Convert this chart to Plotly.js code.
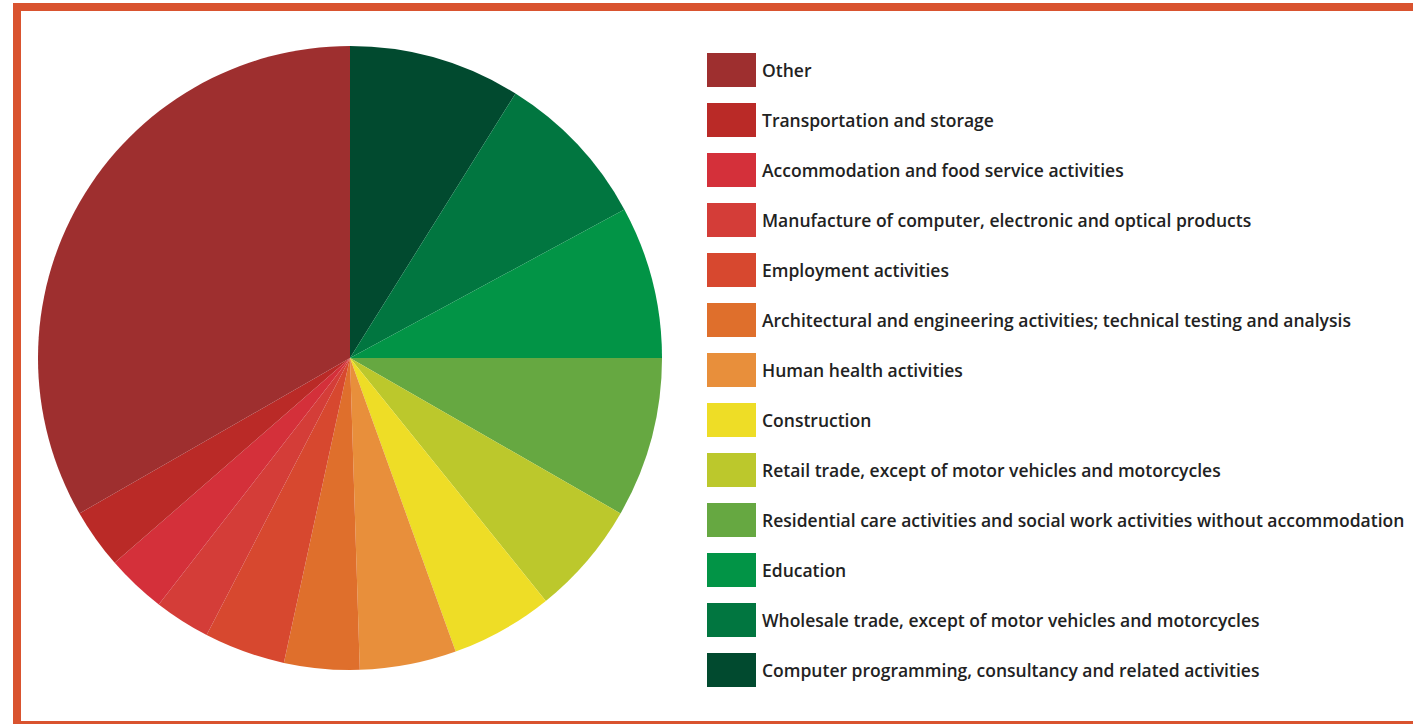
<!DOCTYPE html>
<html>
<head>
<meta charset="utf-8">
<script src="https://cdn.plot.ly/plotly-3.0.1.min.js"></script>
<style>
  html, body { margin: 0; padding: 0; background: #ffffff; }
  #chart { width: 1413px; height: 724px; }
</style>
</head>
<body>
<div id="chart"></div>
<script>
// Sector labels (legend order, top to bottom)
const labels = [
  "Other",
  "Transportation and storage",
  "Accommodation and food service activities",
  "Manufacture of computer, electronic and optical products",
  "Employment activities",
  "Architectural and engineering activities; technical testing and analysis",
  "Human health activities",
  "Construction",
  "Retail trade, except of motor vehicles and motorcycles",
  "Residential care activities and social work activities without accommodation",
  "Education",
  "Wholesale trade, except of motor vehicles and motorcycles",
  "Computer programming, consultancy and related activities"
];

// Share of each sector (%)
const shares = [33.3, 3.1, 3.1, 2.9, 4.2, 3.9, 5.0, 5.3, 5.9, 8.3, 7.9, 8.2, 8.9];

const colors = [
  "#9e2f2f", "#ba2a27", "#d4303a", "#d43d38", "#d7482f", "#df6f2c",
  "#e88f3b", "#eedd26", "#bcc82c", "#66a841", "#029446", "#017640", "#014a2f"
];

const W = 1413, H = 724;
const px = x => x / W;
const py = y => 1 - y / H;

const shapes = [];
const annotations = [];

// Legend built from labels and colors
labels.forEach((lab, i) => {
  const cy = 70 + 50 * i;
  shapes.push({
    type: "rect", xref: "paper", yref: "paper",
    x0: px(707), x1: px(756), y0: py(cy + 17), y1: py(cy - 17),
    fillcolor: colors[i], line: { width: 0 }, layer: "above"
  });
  annotations.push({
    xref: "paper", yref: "paper", x: px(760), y: py(cy),
    xanchor: "left", yanchor: "middle", showarrow: false,
    text: lab, font: { family: "'Open Sans', sans-serif", size: 17.5, weight: 600, color: "#222222" }
  });
});

// Orange frame
const frameColor = "#d9532f";
shapes.push(
  { type: "rect", xref: "paper", yref: "paper", x0: px(13), x1: px(1420), y0: py(11), y1: py(3),
    fillcolor: frameColor, line: { width: 0 }, layer: "above" },
  { type: "rect", xref: "paper", yref: "paper", x0: px(13), x1: px(21), y0: py(730), y1: py(3),
    fillcolor: frameColor, line: { width: 0 }, layer: "above" },
  { type: "rect", xref: "paper", yref: "paper", x0: px(13), x1: px(1420), y0: py(730), y1: py(721),
    fillcolor: frameColor, line: { width: 0 }, layer: "above" }
);

// Pie drawn clockwise from 12 o'clock, starting with the last legend entry
const data = [{
  type: "pie",
  labels: labels.slice().reverse(),
  values: shares.slice().reverse(),
  sort: false,
  direction: "clockwise",
  rotation: 0,
  textinfo: "none",
  hoverinfo: "label+percent",
  marker: { colors: colors.slice().reverse(), line: { width: 0 } },
  domain: { x: [px(38), px(662)], y: [py(670), py(46)] },
  showlegend: false
}];

const layout = {
  width: W, height: H,
  margin: { l: 0, r: 0, t: 0, b: 0 },
  paper_bgcolor: "#ffffff",
  plot_bgcolor: "#ffffff",
  showlegend: false,
  shapes: shapes,
  annotations: annotations
};

Plotly.newPlot("chart", data, layout, { displayModeBar: false, staticPlot: true });
</script>
</body>
</html>
